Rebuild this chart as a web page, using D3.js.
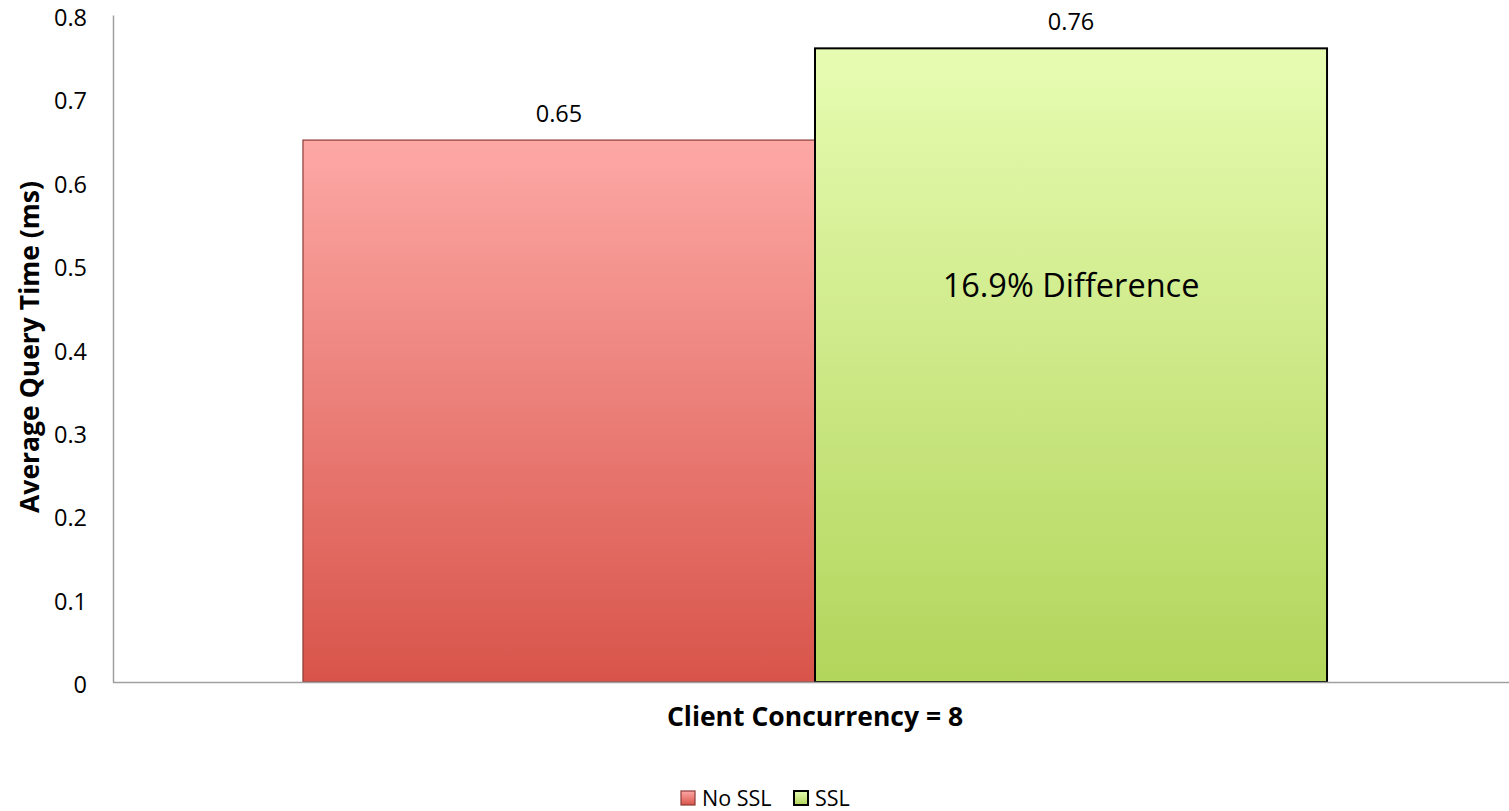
<!DOCTYPE html>
<html><head><meta charset="utf-8">
<script src="https://cdn.jsdelivr.net/npm/d3@7"></script>
<style>body{margin:0;background:#fff;}svg{display:block;font-family:"Open Sans",sans-serif;}</style>
</head><body>
<svg id="c" width="1509" height="811"></svg>
<script>
const categories = ["Client Concurrency = 8"];
const seriesNames = ["No SSL", "SSL"];
const noSSL = [0.65];
const ssl = [0.76];
const valueLabels = ["0.65", "0.76"];
const yTicks = [0, 0.1, 0.2, 0.3, 0.4, 0.5, 0.6, 0.7, 0.8];
const annotation = "16.9% Difference";
const yTitle = "Average Query Time (ms)";

(function () {
const svg = d3.select("#c");
const mLeft = 113, mRight = 1509, mTop = 15, mBottom = 682;
const y = d3.scaleLinear().domain([0, 0.8]).range([mBottom, mTop]);
const x0 = d3.scaleBand().domain(categories).range([mLeft, mRight + 8]).paddingInner(0).paddingOuter(0.1855);
const x1 = d3.scaleBand().domain(seriesNames).range([0, x0.bandwidth()]).padding(0);

const defs = svg.append("defs");
const grads = [
  {id: "gRed", top: "#fda8a5", bot: "#d8544a"},
  {id: "gGreen", top: "#e7fcb2", bot: "#b2d55b"}
];
grads.forEach(g => {
  const lg = defs.append("linearGradient").attr("id", g.id).attr("x1", 0).attr("y1", 0).attr("x2", 0).attr("y2", 1);
  lg.append("stop").attr("offset", "0%").attr("stop-color", g.top);
  lg.append("stop").attr("offset", "100%").attr("stop-color", g.bot);
});

const yAxis = d3.axisLeft(y).tickValues(yTicks).tickFormat(d => d === 0 ? "0" : d3.format(".1f")(d)).tickSize(0).tickPadding(26);
const ya = svg.append("g").attr("transform", `translate(${mLeft},0)`).call(yAxis);
ya.select(".domain").attr("stroke", "#a0a0a0").attr("stroke-width", 1.5);
ya.selectAll("text").attr("font-size", 23.5).attr("fill", "#000").attr("font-family", "Open Sans").attr("dy", "0.45em");

const series = [
  {name: "No SSL", values: noSSL, fill: "url(#gRed)", stroke: "#8c3b36", sw: 1.2, label: valueLabels[0]},
  {name: "SSL", values: ssl, fill: "url(#gGreen)", stroke: "#000", sw: 2, label: valueLabels[1]}
];

categories.forEach((c, ci) => {
  series.forEach(s => {
    const bx = x0(c) + x1(s.name);
    svg.append("rect")
      .attr("x", bx).attr("y", y(s.values[ci]))
      .attr("width", x1.bandwidth()).attr("height", y(0) - y(s.values[ci]))
      .attr("fill", s.fill).attr("stroke", s.stroke).attr("stroke-width", s.sw);
    svg.append("text").attr("x", bx + x1.bandwidth() / 2).attr("y", y(s.values[ci]) - 18)
      .attr("text-anchor", "middle").attr("font-size", 23.5).text(s.label);
  });
});

svg.append("line").attr("x1", mLeft).attr("x2", mRight).attr("y1", mBottom + 0.5).attr("y2", mBottom + 0.5)
  .attr("stroke", "#a0a0a0").attr("stroke-width", 1.5);

svg.append("text").attr("x", x0(categories[0]) + x1("SSL") + x1.bandwidth() / 2).attr("y", 297)
  .attr("text-anchor", "middle").attr("font-size", 32.5).text(annotation);

svg.append("text").attr("x", x0(categories[0]) + x0.bandwidth() / 2).attr("y", 726)
  .attr("text-anchor", "middle").attr("font-size", 26.5).attr("font-weight", "bold").text(categories[0]);
svg.append("text").attr("transform", `translate(39,347) rotate(-90)`)
  .attr("text-anchor", "middle").attr("font-size", 26.5).attr("font-weight", "bold").text(yTitle);

const lg = svg.append("g").attr("transform", "translate(680,790)");
const legendItems = [
  {name: seriesNames[0], fill: "url(#gRed)", stroke: "#8c3b36", sw: 1.2, x: 0},
  {name: seriesNames[1], fill: "url(#gGreen)", stroke: "#000", sw: 2, x: 113}
];
legendItems.forEach(it => {
  lg.append("rect").attr("x", it.x + 1).attr("y", 1).attr("width", 14).attr("height", 14)
    .attr("fill", it.fill).attr("stroke", it.stroke).attr("stroke-width", it.sw);
  lg.append("text").attr("x", it.x + 22).attr("y", 15.5).attr("font-size", 21.5).text(it.name);
});
})();
</script>
</body></html>
